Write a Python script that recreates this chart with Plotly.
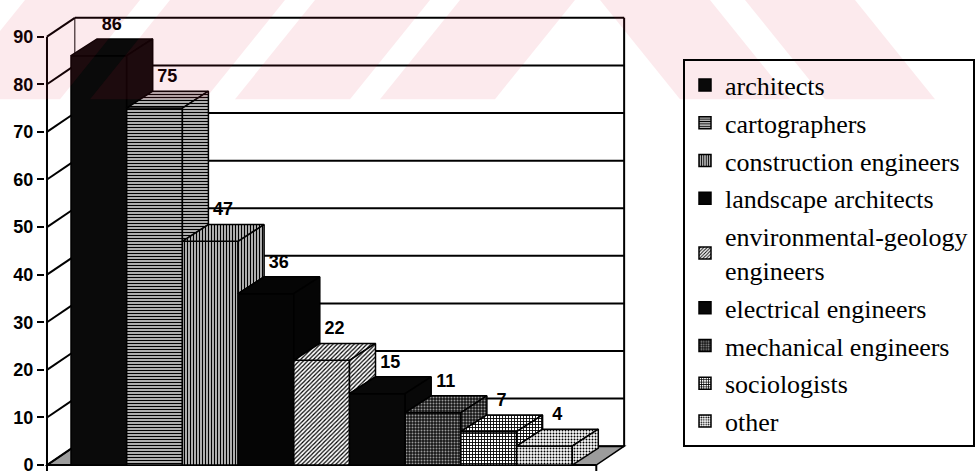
import plotly.graph_objects as go

# ---------------- data ----------------
categories = [
    "architects",
    "cartographers",
    "construction engineers",
    "landscape architects",
    "environmental-geology<br>engineers",
    "electrical engineers",
    "mechanical engineers",
    "sociologists",
    "other",
]
values = [86, 75, 47, 36, 22, 15, 11, 7, 4]
y_ticks = [0, 10, 20, 30, 40, 50, 60, 70, 80, 90]

# ---------------- styles ----------------
# (shape, fg, bg, size, solidity)
styles = [
    ("", "black", "#0a0a0a", 8, 0.3),
    ("-", "black", "white", 3, 0.55),
    ("|", "black", "white", 3, 0.55),
    ("", "black", "#050505", 8, 0.3),
    ("/", "black", "white", 3, 0.4),
    ("", "black", "#080808", 8, 0.3),
    (".", "#9a9a9a", "#151515", 3, 0.35),
    ("+", "black", "white", 3, 0.5),
    (".", "black", "white", 3, 0.35),
]

# geometry of the pseudo-3D frame (axis units)
X_RANGE = [-0.9668, 15.802]
Y_RANGE = [-1.25, 97.71]
FL, FR = -0.931, 8.931       # front edge of floor
WDX, WDY = 0.5, 3.96         # wall depth offset
BDX, BDY = 0.467, 3.54       # bar depth offset
LW = 2

fig = go.Figure()

n = len(values)
idx = list(range(n))

# front faces (real bars)
for i in idx:
    shp, fg, bg, sz, sol = styles[i]
    pat = dict(shape=shp, fgcolor=fg, bgcolor=bg, size=sz, solidity=sol, fillmode="replace") if shp else dict(shape="")
    fig.add_trace(go.Bar(
        x=[i], y=[values[i]], width=[1.0], name=categories[i],
        legendgroup=f"g{i}",
        marker=dict(color=bg, line=dict(color="black", width=1.5), pattern=pat),
        hoverinfo="skip", showlegend=True,
    ))

# top faces and visible parts of side faces
for i in idx:
    v = values[i]
    nxt = values[i + 1] if i + 1 < n else 0
    shp, fg, bg, sz, sol = styles[i]
    fp = dict(shape=shp, fgcolor=fg, bgcolor=bg, size=sz, solidity=sol, fillmode="replace") if shp else None
    xl, xr = i - 0.5, i + 0.5
    top_x = [xl, xr, xr + BDX, xl + BDX, xl]
    top_y = [v, v, v + BDY, v + BDY, v]
    side_x = [xr, xr, xr + BDX, xr + BDX, xr]
    side_y = [nxt, v, v + BDY, nxt + BDY, nxt]
    for xs, ys in ((top_x, top_y), (side_x, side_y)):
        kw = dict(x=xs, y=ys, mode="lines", fill="toself", fillcolor=bg,
                  line=dict(color="black", width=1.5), showlegend=False,
                  hoverinfo="skip", legendgroup=f"g{i}")
        if fp:
            kw["fillpattern"] = fp
        fig.add_trace(go.Scatter(**kw))

# value labels
fig.add_trace(go.Scatter(
    x=[i + 0.23 for i in idx], y=[v + BDY + 1.0 for v in values],
    mode="text", text=[str(v) for v in values], textposition="top center",
    textfont=dict(family="Liberation Sans", size=18, color="black", weight="bold"),
    showlegend=False, hoverinfo="skip", cliponaxis=False,
))

# ---------------- frame (walls, floor, gridlines) ----------------
shapes = []
def line(x0, y0, x1, y1, w=LW):
    shapes.append(dict(type="line", xref="x", yref="y", x0=x0, y0=y0, x1=x1, y1=y1,
                       line=dict(color="black", width=w), layer="below"))

# floor
shapes.append(dict(type="path", xref="x", yref="y", layer="below",
                   path=f"M{FL},0 L{FR},0 L{FR+WDX},{WDY} L{FL+WDX},{WDY} Z",
                   fillcolor="#9c9c9c", line=dict(color="black", width=1.5)))
top = y_ticks[-1]
line(FL + WDX, WDY, FL + WDX, top + WDY, 1)
line(FR + WDX, WDY, FR + WDX, top + WDY, LW)
for t in y_ticks:
    line(FL, t, FL + WDX, t + WDY, LW)
    line(FL + WDX, t + WDY, FR + WDX, t + WDY, LW)
line(FL, Y_RANGE[0], FL, top, LW)
line(FL, 0, FR, 0, LW)
line(FR, 0, FR, Y_RANGE[0], LW)

# ---------------- watermark (decoration, paper coords) ----------------
ML = 45
PW, PH = 979 - ML, 475
def px(p):
    return (p - ML) / PW
def py(p):
    return 1 - p / PH
wm = "rgba(225,25,60,0.09)"
for a in [-120, 25, 170, 315, 460]:
    pts = [(a, 0), (a + 115, 0), (a + 115 - 80, 100), (a - 80, 100)]
    path = "M" + " L".join(f"{px(x)},{py(y)}" for x, y in pts) + " Z"
    shapes.append(dict(type="path", xref="paper", yref="paper", path=path,
                       fillcolor=wm, line=dict(width=0), layer="above"))
for b in [600, 745]:
    pts = [(b, 0), (b + 110, 0), (b + 110 + 80, 100), (b + 80, 100)]
    path = "M" + " L".join(f"{px(x)},{py(y)}" for x, y in pts) + " Z"
    shapes.append(dict(type="path", xref="paper", yref="paper", path=path,
                       fillcolor=wm, line=dict(width=0), layer="above"))

fig.update_layout(
    width=979, height=475,
    margin=dict(l=ML, r=0, t=0, b=0),
    paper_bgcolor="white", plot_bgcolor="white",
    barmode="overlay",
    shapes=shapes,
    xaxis=dict(range=X_RANGE, visible=False, fixedrange=True),
    yaxis=dict(range=Y_RANGE, tickvals=y_ticks, ticktext=[str(t) for t in y_ticks],
               showgrid=False, zeroline=False, showline=False,
               ticks="outside", ticklen=7, tickwidth=2, tickcolor="black",
               ticklabeloverflow="allow",
               tickfont=dict(family="Liberation Sans", size=18, color="black", weight="bold"),
               fixedrange=True),
    legend=dict(x=px(683), y=py(60), xanchor="left", yanchor="top",
                bgcolor="rgba(0,0,0,0)", bordercolor="black", borderwidth=2,
                font=dict(family="Liberation Serif", size=26, color="black"),
                traceorder="grouped", tracegroupgap=1,
                itemclick=False, itemdoubleclick=False),
    showlegend=True,
)

fig.write_html("out.html")
